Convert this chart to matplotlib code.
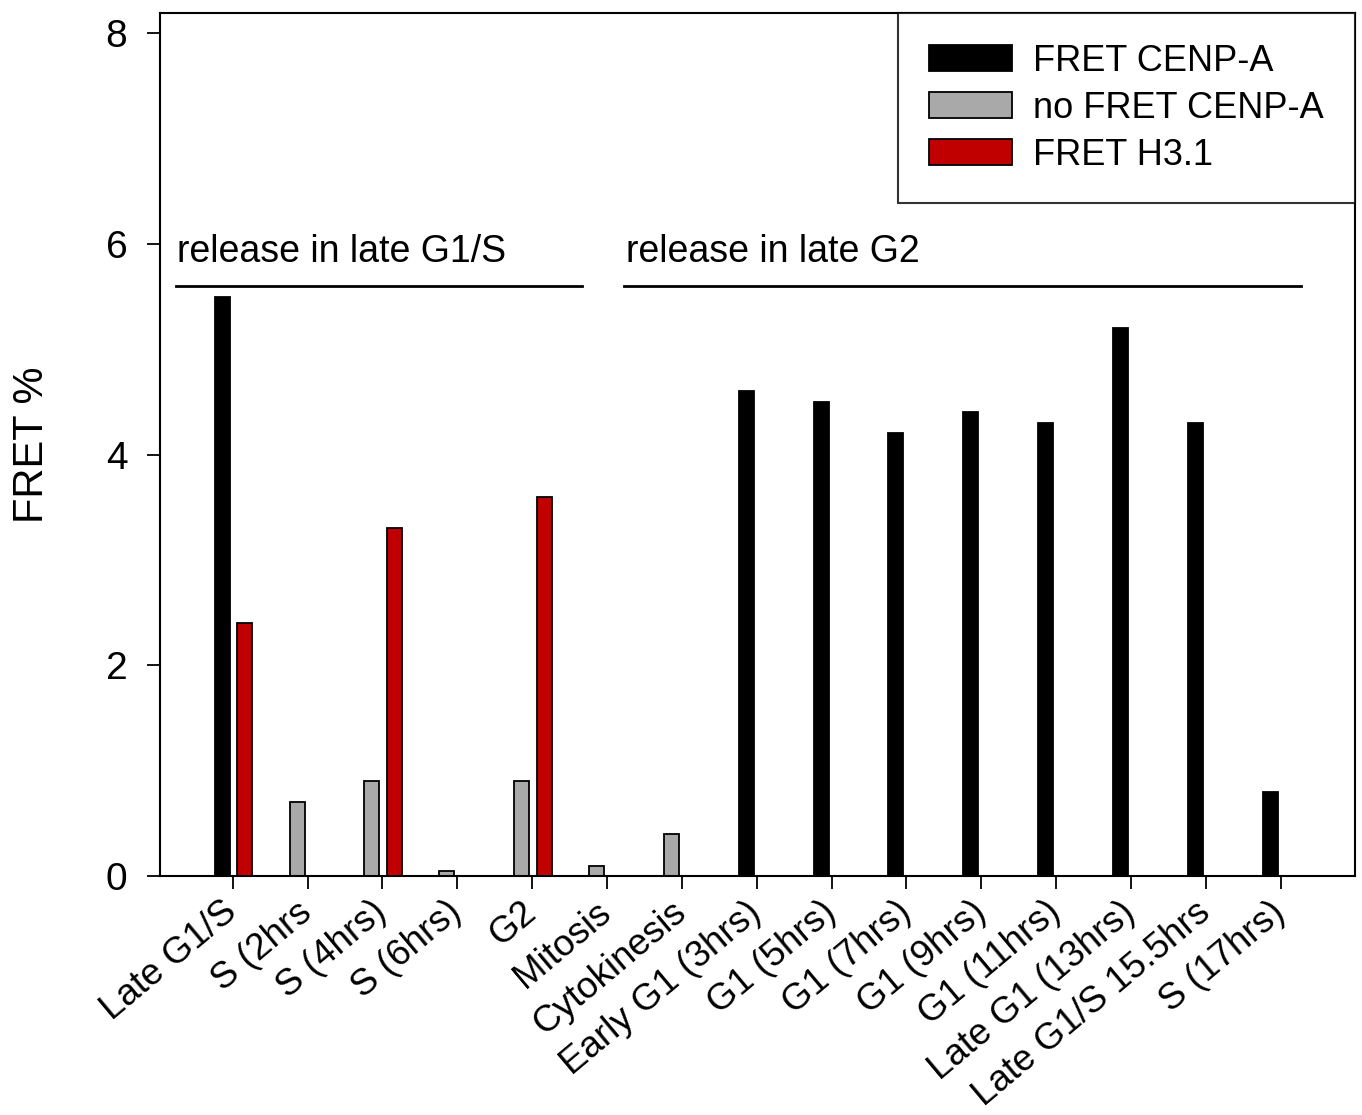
import numpy as np
import matplotlib
matplotlib.use("Agg")
import matplotlib.pyplot as plt
import matplotlib.transforms as mtransforms

plt.rcParams['font.family'] = ['Liberation Sans', 'DejaVu Sans']

categories = ["Late G1/S", "S (2hrs", "S (4hrs)", "S (6hrs)", "G2", "Mitosis",
              "Cytokinesis", "Early G1 (3hrs)", "G1 (5hrs)", "G1 (7hrs)",
              "G1 (9hrs)", "G1 (11hrs)", "Late G1 (13hrs)", "Late G1/S 15.5hrs",
              "S (17hrs)"]
# 0 means no bar for that series
fret_cenpa = [5.5, 0, 0, 0, 0, 0, 0, 4.6, 4.5, 4.2, 4.4, 4.3, 5.2, 4.3, 0.8]
no_fret_cenpa = [0, 0.7, 0.9, 0.05, 0.9, 0.1, 0.4, 0, 0, 0, 0, 0, 0, 0, 0]
fret_h31 = [2.4, 0, 3.3, 0, 3.6, 0, 0, 0, 0, 0, 0, 0, 0, 0, 0]

groups = [("release in late G1/S", -0.76, 4.67),
          ("release in late G2", 5.23, 14.27)]
group_line_y = 5.6
group_text_y = 5.83

fig = plt.figure(figsize=(13.62, 11.15), dpi=100)
ax = fig.add_axes([0.1175, 0.2143, 0.8773, 0.774])

x = np.arange(len(categories))
w = 0.2
left_off, right_off = -0.14, 0.16


def draw(vals, off, color, label):
    vals = np.asarray(vals, dtype=float)
    keep = vals > 0
    ax.bar(x[keep] + off, vals[keep], width=w, color=color, edgecolor='black',
           linewidth=1.3, label=label)


draw(fret_cenpa, left_off, 'black', 'FRET CENP-A')
draw(no_fret_cenpa, left_off, '#a9a9a9', 'no FRET CENP-A')
draw(fret_h31, right_off, '#c00000', 'FRET H3.1')

ax.set_xlim(-0.97, 14.99)
ax.set_ylim(0, 8.19)
ax.set_yticks([0, 2, 4, 6, 8])
ax.set_xticks(x)
ax.set_xticklabels(categories, rotation=40, ha='right', va='center',
                   rotation_mode='anchor', fontsize=26.5)
offset = mtransforms.ScaledTranslation(4 / 72, 0, fig.dpi_scale_trans)
for lab in ax.get_xticklabels():
    lab.set_transform(lab.get_transform() + offset)

ax.tick_params(axis='y', direction='out', length=9.5, width=1.3, pad=14,
               labelsize=28)
ax.tick_params(axis='x', direction='out', length=9, width=1.3, pad=14)
for s in ax.spines.values():
    s.set_linewidth(1.5)

ax.set_ylabel("FRET %", fontsize=30)
ax.yaxis.set_label_coords(-0.090, 0.5)

for text, x0, x1 in groups:
    ax.plot([x0, x1], [group_line_y, group_line_y], color='black', lw=2)
    ax.text(x0 + 0.02, group_text_y, text, fontsize=27, va='baseline', ha='left')

leg = ax.legend(loc='upper right', fontsize=26, frameon=True, fancybox=False,
                borderaxespad=0, handlelength=2.3, handleheight=0.7,
                handletextpad=0.6, labelspacing=0.33, borderpad=0.85)
leg.get_frame().set_edgecolor('black')
leg.get_frame().set_linewidth(1.5)

fig.savefig("out.png", dpi=100)
